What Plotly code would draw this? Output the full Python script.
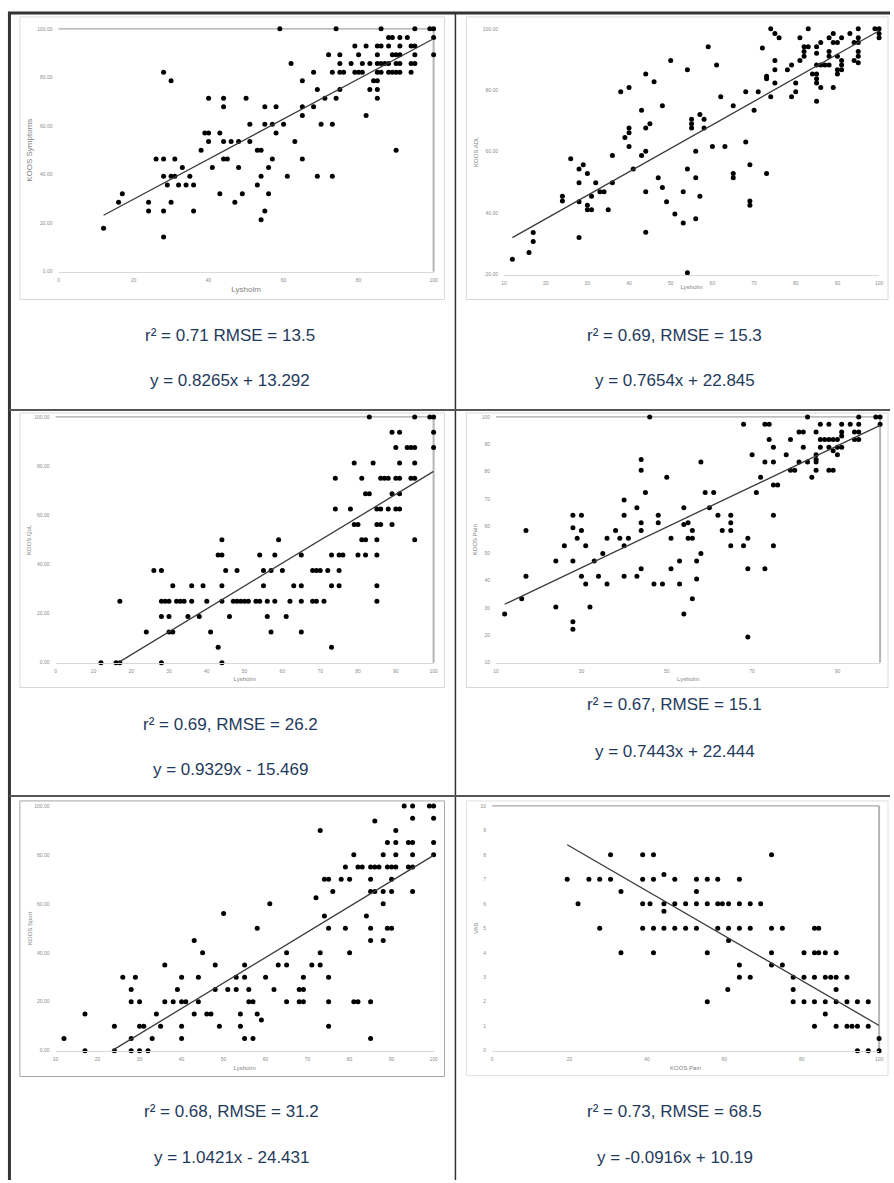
import plotly.graph_objects as go

W, H = 894, 1183

# ---------------- data ----------------
symptoms_pts = [(12,17.9),(16,28.6),(17,32.1),(24,28.6),(24,25.0),(26,46.4),(28,82.1),(28,46.4),(28,39.3),(28,25.0),(28,14.3),(29,35.7),(30,78.6),(30,39.3),(30,28.6),(31,46.4),(31,39.3),(32,35.7),(33,42.9),(34,35.7),(35,39.3),(36,35.7),(36,25.0),(38,50.0),(39,57.1),(40,57.1),(40,53.6),(40,71.4),(41,42.9),(43,57.1),(43,32.1),(44,71.4),(44,67.9),(44,53.6),(44,46.4),(45,46.4),(46,53.6),(47,28.6),(48,53.6),(48,42.9),(49,32.1),(50,71.4),(51,60.7),(51,53.6),(53,50.0),(53,35.7),(54,50.0),(54,39.3),(54,21.4),(55,67.9),(55,60.7),(55,25.0),(56,42.9),(56,32.1),(57,60.7),(57,46.4),(58,67.9),(58,57.1),(59,100),(60,60.7),(61,39.3),(62,85.7),(63,53.6),(65,78.6),(65,67.9),(65,64.3),(65,46.4),(68,82.1),(68,67.9),(69,75.0),(69,39.3),(70,60.7),(71,71.4),(72,89.3),(73,82.1),(73,60.7),(73,39.3),(74,100),(74,71.4),(75,89.3),(75,85.7),(75,82.1),(75,75.0),(76,82.1),(78,85.7),(79,92.9),(79,82.1),(80,89.3),(80,82.1),(81,85.7),(81,82.1),(82,92.9),(82,64.3),(83,85.7),(83,75.0),(84,78.6),(85,92.9),(85,89.3),(85,85.7),(85,82.1),(85,78.6),(85,75.0),(85,71.4),(86,100),(86,92.9),(86,85.7),(86,82.1),(87,85.7),(88,92.9),(88,96.4),(88,85.7),(88,82.1),(89,96.4),(89,89.3),(89,82.1),(90,89.3),(90,85.7),(90,82.1),(90,50.0),(91,96.4),(91,92.9),(91,89.3),(91,85.7),(91,82.1),(93,96.4),(94,92.9),(94,85.7),(94,82.1),(95,100),(95,92.9),(95,89.3),(95,85.7),(99,100),(100,100),(100,96.4),(100,89.3)]

adl_pts = [(12,25.0),(16,27.2),(17,33.7),(17,30.8),(24,45.5),(24,44.0),(26,57.7),(28,54.4),(28,49.9),(28,43.7),(28,32.1),(29,55.8),(30,52.9),(30,42.6),(30,41.1),(31,45.5),(31,41.1),(32,49.9),(33,47.0),(34,47.0),(35,41.1),(36,58.8),(36,49.9),(38,79.5),(39,64.6),(40,80.9),(40,67.7),(40,66.2),(40,61.7),(41,54.4),(43,58.8),(43,73.5),(44,85.3),(44,67.7),(44,60.2),(44,47.0),(44,33.8),(45,69.1),(46,82.8),(47,51.5),(48,75.0),(48,48.4),(49,43.7),(50,89.7),(51,39.7),(53,47.0),(53,36.8),(54,86.7),(54,54.4),(54,20.6),(55,70.6),(55,69.1),(55,67.7),(56,60.2),(56,51.5),(56,38.2),(57,72.1),(57,45.5),(58,70.6),(58,67.7),(59,94.2),(60,61.7),(61,88.2),(62,77.9),(63,61.7),(65,75.0),(65,52.9),(65,51.5),(68,79.5),(68,63.2),(69,55.8),(69,44.0),(69,42.6),(70,73.5),(71,79.5),(72,93.8),(73,84.6),(73,83.8),(73,52.9),(74,100),(74,77.9),(75,98.5),(75,89.7),(75,86.7),(75,82.4),(76,97.1),(78,86.7),(79,88.2),(79,77.9),(80,82.4),(80,79.5),(81,97.1),(81,89.7),(82,94.2),(82,92.6),(82,91.1),(83,100),(83,94.2),(84,85.3),(85,94.2),(85,92.1),(85,88.2),(85,85.3),(85,83.8),(85,82.4),(85,76.4),(86,88.2),(86,80.9),(86,95.6),(87,88.2),(88,92.6),(88,91.1),(88,88.2),(88,97.1),(89,98.5),(89,95.6),(89,80.9),(90,95.6),(90,91.1),(90,86.7),(90,85.3),(91,97.1),(91,89.7),(91,88.2),(91,86.7),(93,98.5),(94,95.6),(94,89.7),(95,100),(95,97.1),(95,95.6),(95,92.6),(95,91.1),(95,89.0),(99,100),(100,100),(100,98.5),(100,97.1)]

qol_pts = [(12,0),(16,0),(17,0),(17,25),(24,12.5),(26,37.5),(28,37.5),(28,25),(28,18.75),(28,0),(29,25),(30,25),(30,18.75),(30,12.5),(31,31.25),(31,12.5),(32,25),(33,25),(34,25),(35,18.75),(36,31.25),(36,25),(38,18.75),(39,31.25),(40,25),(41,12.5),(43,6.25),(43,43.75),(44,43.75),(44,50),(44,31.25),(44,25),(44,0),(45,37.5),(46,18.75),(47,25),(48,37.5),(48,25),(49,25),(50,25),(51,25),(53,25),(54,43.75),(54,25),(55,37.5),(55,31.25),(56,25),(56,18.75),(57,37.5),(57,12.5),(58,43.75),(58,25),(59,50),(60,37.5),(61,18.75),(62,25),(63,31.25),(65,43.75),(65,31.25),(65,25),(65,12.5),(68,37.5),(68,25),(69,37.5),(69,25),(70,37.5),(71,25),(72,37.5),(73,43.75),(73,31.25),(73,6.25),(74,75),(74,62.5),(75,43.75),(75,37.5),(75,31.25),(76,43.75),(78,62.5),(79,81.25),(79,56.25),(80,56.25),(80,43.75),(81,75),(81,50),(82,68.75),(82,50),(82,43.75),(83,100),(83,68.75),(84,81.25),(85,62.5),(85,56.25),(85,50),(85,43.75),(85,31.25),(85,25),(86,75),(86,62.5),(86,56.25),(87,75),(88,75),(88,62.5),(89,93.75),(89,68.75),(89,56.25),(90,87.5),(90,75),(90,62.5),(91,93.75),(91,81.25),(91,75),(91,68.75),(91,62.5),(93,87.5),(94,87.5),(94,75),(95,100),(95,87.5),(95,81.25),(95,75),(95,50),(99,100),(100,100),(100,93.75),(100,87.5)]

pain_pts = [(12,27.8),(16,33.4),(17,58.4),(17,41.6),(24,47.2),(24,30.4),(26,52.8),(28,64.0),(28,59.4),(28,47.2),(28,25.0),(28,22.2),(29,55.6),(30,64.0),(30,58.4),(30,41.6),(31,52.8),(31,38.8),(32,30.4),(33,47.2),(34,41.6),(35,50.0),(36,55.6),(36,38.8),(38,58.4),(39,55.6),(40,69.6),(40,64.0),(40,52.8),(40,41.6),(41,55.6),(43,66.7),(43,41.6),(44,84.4),(44,80.5),(44,61.2),(44,58.4),(44,44.4),(45,72.3),(46,100),(47,38.8),(48,64.0),(48,61.2),(49,38.8),(50,77.9),(51,55.6),(51,44.4),(53,47.2),(53,38.8),(54,66.7),(54,60.6),(54,27.8),(55,61.2),(55,55.6),(56,58.4),(56,55.6),(56,33.4),(57,47.2),(57,40.6),(58,83.5),(58,50.0),(59,72.3),(60,66.7),(61,72.3),(62,64.0),(63,58.4),(65,64.0),(65,61.2),(65,58.4),(65,52.8),(68,97.3),(68,52.8),(69,55.6),(69,44.4),(69,19.4),(70,86.1),(71,72.3),(72,77.9),(73,97.3),(73,83.5),(73,44.4),(74,97.3),(74,91.7),(75,88.9),(75,83.5),(75,75.1),(75,64.0),(75,52.8),(76,75.1),(78,86.1),(79,91.7),(79,80.5),(80,80.5),(81,94.5),(81,83.5),(82,94.5),(82,88.9),(83,100),(83,83.5),(84,77.9),(85,94.5),(85,86.1),(85,84.4),(85,83.5),(85,80.5),(86,97.3),(86,91.7),(86,88.9),(87,91.7),(88,97.3),(88,91.7),(88,88.9),(88,80.5),(89,91.7),(89,87.6),(89,80.5),(90,91.7),(90,88.9),(90,86.1),(91,97.3),(91,94.5),(91,93.0),(91,88.9),(93,97.3),(94,94.5),(94,91.7),(95,100),(95,97.3),(95,94.5),(95,91.7),(99,100),(100,100),(100,97.3)]

sport_pts = [(12,5),(17,15),(17,0),(24,10),(24,0),(26,30),(28,25),(28,20),(28,5),(28,0),(29,30),(30,20),(30,10),(30,0),(31,10),(32,0),(33,5),(34,15),(35,10),(36,35),(36,20),(38,20),(39,25),(40,30),(40,20),(40,10),(40,5),(41,20),(43,45),(43,15),(44,30),(44,20),(45,40),(46,15),(47,15),(48,35),(48,25),(49,10),(50,56),(51,25),(53,30),(53,25),(54,15),(54,10),(55,35),(55,30),(55,5),(56,25),(56,20),(57,20),(57,5),(58,50),(58,15),(59,12.5),(60,30),(61,60),(62,25),(63,35),(65,40),(65,35),(65,20),(68,25),(68,20),(69,30),(69,25),(69,20),(71,35),(72,62.5),(73,90),(73,40),(73,35),(74,70),(74,55),(75,70),(75,50),(75,30),(75,20),(75,10),(76,65),(78,70),(79,75),(79,50),(80,70),(80,40),(81,80),(81,20),(82,75),(82,20),(83,75),(84,55),(85,75),(85,70),(85,65),(85,50),(85,45),(85,20),(85,5),(86,93.8),(86,75),(86,65),(87,75),(88,80),(88,65),(88,60),(88,45),(89,85),(89,75),(89,50),(90,75),(90,70),(90,65),(90,50),(91,90),(91,85),(91,80),(91,75),(93,100),(94,85),(94,75),(95,100),(95,95),(95,85),(95,80),(95,75),(95,65),(99,100),(100,100),(100,95),(100,85),(100,80)]

vas_pts = [(19.4,7),(22.2,6),(25.0,7),(27.8,7),(27.8,5),(30.6,8),(30.6,7),(33.3,6.5),(33.3,4),(38.9,8),(38.9,7),(38.9,6),(38.9,5),(40.8,6),(41.7,8),(41.7,7),(41.7,5),(41.7,4),(44.4,7.2),(44.4,6),(44.4,5.7),(44.4,5),(47.2,7),(47.2,6),(47.2,5),(50.0,6),(50.0,5),(52.8,7),(52.8,6.5),(52.8,6),(52.8,5),(55.6,7),(55.6,6),(55.6,4),(55.6,2),(58.3,7),(58.3,6),(58.3,5),(59.5,6),(60.9,2.5),(61.1,6),(61.1,5),(61.1,4.5),(63.9,7),(63.9,6),(63.9,5),(63.9,3.5),(63.9,3),(66.7,6),(66.7,5),(66.7,3),(69.4,6),(72.2,8),(72.2,5),(72.2,4),(72.2,3.5),(75.0,5),(75.0,3.5),(77.8,3),(77.8,2.5),(77.8,2),(80.6,4),(80.6,3),(80.6,2),(83.3,5),(83.3,4),(83.3,3),(83.3,2),(83.3,1),(84.4,5),(84.4,4),(86.1,4),(86.1,3),(86.1,2),(86.1,1.5),(87.5,3),(88.9,4),(88.9,3),(88.9,2.5),(88.9,2),(88.9,1),(91.7,3),(91.7,2),(91.7,1),(93.0,1),(94.4,2),(94.4,1),(94.4,0),(97.2,2),(97.2,1),(97.2,0),(100,0.5),(100,0)]

x_titles = ["Lysholm", "Lysholm", "Lysholm", "Lysholm", "Lysholm", "KOOS Pain"]
y_titles = ["KOOS Symptoms", "KOOS ADL", "KOOS QoL", "KOOS Pain", "KOOS Sport", "VAS"]
slopes = [0.8265, 0.7654, 0.9329, 0.7443, 1.0421, -0.0916]
intercepts = [13.292, 22.845, -15.469, 22.444, -24.431, 10.19]
fit_texts = ["r\u00b2 = 0.71 RMSE = 13.5", "r\u00b2 = 0.69, RMSE = 15.3",
             "r\u00b2 = 0.69, RMSE = 26.2", "r\u00b2 = 0.67, RMSE = 15.1",
             "r\u00b2 = 0.68, RMSE = 31.2", "r\u00b2 = 0.73, RMSE = 68.5"]
eq_texts = ["y = 0.8265x + 13.292", "y = 0.7654x + 22.845", "y = 0.9329x - 15.469",
            "y = 0.7443x + 22.444", "y = 1.0421x - 24.431", "y = -0.0916x + 10.19"]

x_ranges = [(0, 100), (10, 100), (0, 100), (10, 100), (10, 100), (0, 100)]
y_ranges = [(0, 100), (20, 100), (0, 100), (10, 100), (0, 100), (0, 10)]
x_dticks = [20, 10, 10, 20, 10, 20]
y_dticks = [20, 20, 20, 10, 20, 1]
y_formats = [".2f", ".2f", ".2f", "d", ".2f", "d"]
all_pts = [symptoms_pts, adl_pts, qol_pts, pain_pts, sport_pts, vas_pts]

# ---------------- layout geometry (pixels) ----------------
plot_px = [(56, 434, 26, 270), (505, 883, 26, 273), (53, 434, 416, 663),
           (497, 884, 416, 663), (53, 434, 807, 1053), (493, 883, 807, 1053)]
frame_px = [(17, 445, 14, 298), (467, 892, 14, 298), (17, 445, 412, 688),
            (467, 892, 412, 688), (17, 445, 802, 1079), (467, 892, 802, 1078)]
frame_col = ["#d9d9d9", "#d9d9d9", "#d9d9d9", "#d9d9d9", "#a6a6a6", "#e0e0e0"]
title_size = [8, 6, 6, 6, 6, 6]
x_title_standoff = [4, 0, 3.5, 3.5, 4.5, 4.5]
y_title_standoff = [3, 3, 2, 3.5, 1, 0.5]
fit_px = [(229, 334), (677, 334), (229, 725), (677, 705), (230, 1114), (677, 1114)]
eq_px = [(229, 379), (677, 379), (229, 770), (677, 752), (230, 1160), (677, 1160)]
border_lines = [True, False, True, True, False, True]

def fx(p):
    return p / W

def fy(p):
    return 1 - p / H

fig = go.Figure()
shapes = []
annotations = []
FONT = "Liberation Sans, Arial, sans-serif"

for i in range(6):
    n = i + 1
    sfx = "" if n == 1 else str(n)
    xs = [p[0] for p in all_pts[i]]
    ys = [p[1] for p in all_pts[i]]
    xl, xr, yt, yb = plot_px[i]
    fig.add_trace(go.Scatter(x=xs, y=ys, mode="markers", xaxis="x" + sfx, yaxis="y" + sfx,
                             marker=dict(color="black", size=5), cliponaxis=False,
                             showlegend=False, hoverinfo="x+y"))
    # trendline, limited to the data range and the visible axis range
    m, b = slopes[i], intercepts[i]
    x0, x1 = min(xs), max(xs)
    ymin, ymax = y_ranges[i]
    if m > 0 and m * x0 + b < ymin:
        x0 = (ymin - b) / m
    if m > 0 and m * x1 + b > ymax:
        x1 = (ymax - b) / m
    fig.add_trace(go.Scatter(x=[x0, x1], y=[m * x0 + b, m * x1 + b], mode="lines",
                             xaxis="x" + sfx, yaxis="y" + sfx,
                             line=dict(color="#3a3a3a", width=1.3), showlegend=False,
                             hoverinfo="skip"))
    tickfont = dict(family=FONT, size=5, color="#8c8c8c")
    titlefont = dict(family=FONT, size=title_size[i], color="#7f7f7f")
    fig.update_layout({
        "xaxis" + sfx: dict(domain=[fx(xl), fx(xr)], range=list(x_ranges[i]), anchor="y" + sfx,
                            tick0=x_ranges[i][0], dtick=x_dticks[i], showgrid=False,
                            zeroline=False, showline=True, linecolor="#d9d9d9", linewidth=1,
                            ticks="", tickfont=tickfont, ticklabelstandoff=3, fixedrange=True,
                            title=dict(text=x_titles[i], font=titlefont,
                                       standoff=x_title_standoff[i])),
        "yaxis" + sfx: dict(domain=[fy(yb), fy(yt)], range=list(y_ranges[i]), anchor="x" + sfx,
                            tick0=y_ranges[i][0], dtick=y_dticks[i], tickformat=y_formats[i],
                            showgrid=False, zeroline=False, showline=False, ticks="",
                            tickfont=tickfont, ticklabelstandoff=5, fixedrange=True,
                            title=dict(text=y_titles[i], font=titlefont,
                                       standoff=y_title_standoff[i])),
    })
    if border_lines[i]:
        shapes.append(dict(type="line", xref="x" + sfx + " domain", yref="y" + sfx + " domain",
                           x0=0, x1=1, y0=1, y1=1, layer="below",
                           line=dict(color="#a6a6a6", width=1.2)))
        shapes.append(dict(type="line", xref="x" + sfx + " domain", yref="y" + sfx + " domain",
                           x0=1, x1=1, y0=0, y1=1, layer="below",
                           line=dict(color="#b4b4b4", width=2)))
    # chart frame
    l, r, t, bt = frame_px[i]
    shapes.append(dict(type="rect", xref="paper", yref="paper", x0=fx(l), x1=fx(r),
                       y0=fy(bt), y1=fy(t), line=dict(color=frame_col[i], width=1),
                       fillcolor="rgba(0,0,0,0)", layer="below"))
    # statistics text
    annotations.append(dict(text=fit_texts[i], xref="paper", yref="paper",
                            x=fx(fit_px[i][0]), y=fy(fit_px[i][1]), showarrow=False,
                            xanchor="center", yanchor="middle",
                            font=dict(family=FONT, size=17, color="#1f3a5c")))
    annotations.append(dict(text=eq_texts[i], xref="paper", yref="paper",
                            x=fx(eq_px[i][0]), y=fy(eq_px[i][1]), showarrow=False,
                            xanchor="center", yanchor="middle",
                            font=dict(family=FONT, size=17, color="#1f3a5c")))

# table borders
def pline(x0, y0, x1, y1, w, c):
    shapes.append(dict(type="line", xref="paper", yref="paper", x0=fx(x0), x1=fx(x1),
                       y0=fy(y0), y1=fy(y1), line=dict(color=c, width=w)))

pline(5, 10, 894, 10, 3, "#333333")
pline(6.5, 9, 6.5, 1183, 3, "#333333")
pline(456, 9, 456, 1183, 1.5, "#333333")
pline(6, 409, 894, 409, 2, "#555555")
pline(6, 797, 894, 797, 2, "#555555")

fig.update_layout(width=W, height=H, autosize=False,
                  margin=dict(l=0, r=0, t=0, b=0, pad=0),
                  paper_bgcolor="white", plot_bgcolor="rgba(0,0,0,0)",
                  shapes=shapes, annotations=annotations, showlegend=False,
                  font=dict(family=FONT))

fig.write_html("out.html", config={"displayModeBar": False},
               post_script="document.body.style.margin='0';document.body.style.overflow='hidden';")
